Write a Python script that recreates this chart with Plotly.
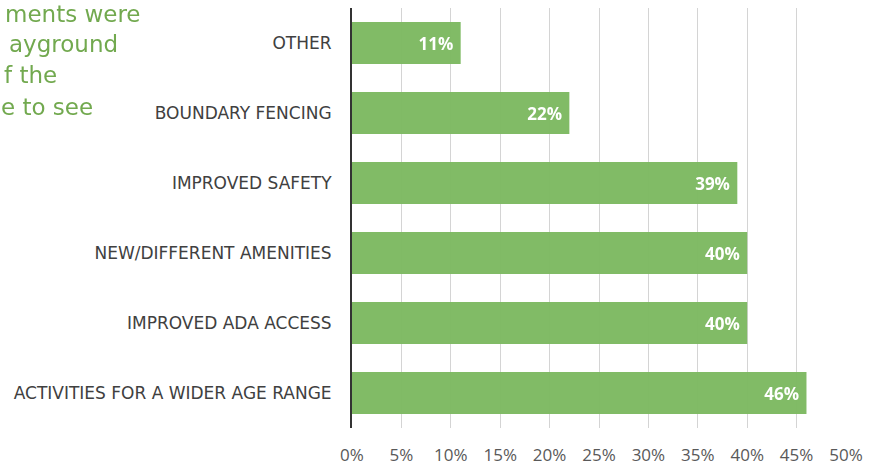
import plotly.graph_objects as go

# Survey responses: desired playground improvements
categories = [
    "ACTIVITIES FOR A WIDER AGE RANGE",
    "IMPROVED ADA ACCESS",
    "NEW/DIFFERENT AMENITIES",
    "IMPROVED SAFETY",
    "BOUNDARY FENCING",
    "OTHER",
]
values = [46, 40, 40, 39, 22, 11]
tick_values = [0, 5, 10, 15, 20, 25, 30, 35, 40, 45, 50]
tick_labels = [f"{v}%" for v in tick_values]

# Partial slide text at the upper left (clipped by the page edge)
side_lines = ["ments were", "ayground", "f the", "e to see"]
side_line_ends = [143, 120, 59, 95]   # right edge of each line, px
side_line_y = [14, 44, 75, 107]       # vertical centre of each line, px

W, H = 869, 465
L, R, T, B = 352, 23, 8, 37
pw, ph = W - L - R, H - T - B

LABEL_FONT = "Open Sans, Lato, sans-serif"

fig = go.Figure()
fig.add_trace(go.Bar(
    y=categories,
    x=values,
    orientation="h",
    marker=dict(color="#7db962", line=dict(width=0)),
    opacity=0.97,
    text=[f"{v}%\u00a0" for v in values],
    textposition="inside",
    insidetextanchor="end",
    textfont=dict(family=LABEL_FONT, size=17, color="white", weight="bold"),
    cliponaxis=False,
))

annotations = []
for txt, xe, yc in zip(side_lines, side_line_ends, side_line_y):
    annotations.append(dict(
        x=(xe - L) / pw, y=1 - (yc - T) / ph,
        xref="paper", yref="paper",
        xanchor="right", yanchor="middle",
        text=txt, showarrow=False,
        font=dict(family="DejaVu Sans, sans-serif", size=23, color="#72a94f"),
    ))

fig.update_layout(
    width=W, height=H,
    margin=dict(l=L, r=R, t=T, b=B),
    paper_bgcolor="white",
    plot_bgcolor="white",
    bargap=0.4,
    showlegend=False,
    annotations=annotations,
    xaxis=dict(
        range=[0, 50],
        tickvals=tick_values,
        ticktext=tick_labels,
        showgrid=True,
        gridcolor="#d4d4d4",
        gridwidth=1,
        zeroline=False,
        showline=False,
        ticks="",
        automargin=False,
        ticklabelstandoff=15,
        tickfont=dict(family=LABEL_FONT, size=17, color="#595959"),
        fixedrange=True,
    ),
    yaxis=dict(
        showline=True,
        linecolor="#333333",
        linewidth=2,
        showgrid=False,
        ticks="",
        automargin=False,
        ticklabelstandoff=15,
        tickfont=dict(family="DejaVu Sans, sans-serif", size=17, color="#404040"),
        fixedrange=True,
    ),
)

fig.write_html("out.html")
